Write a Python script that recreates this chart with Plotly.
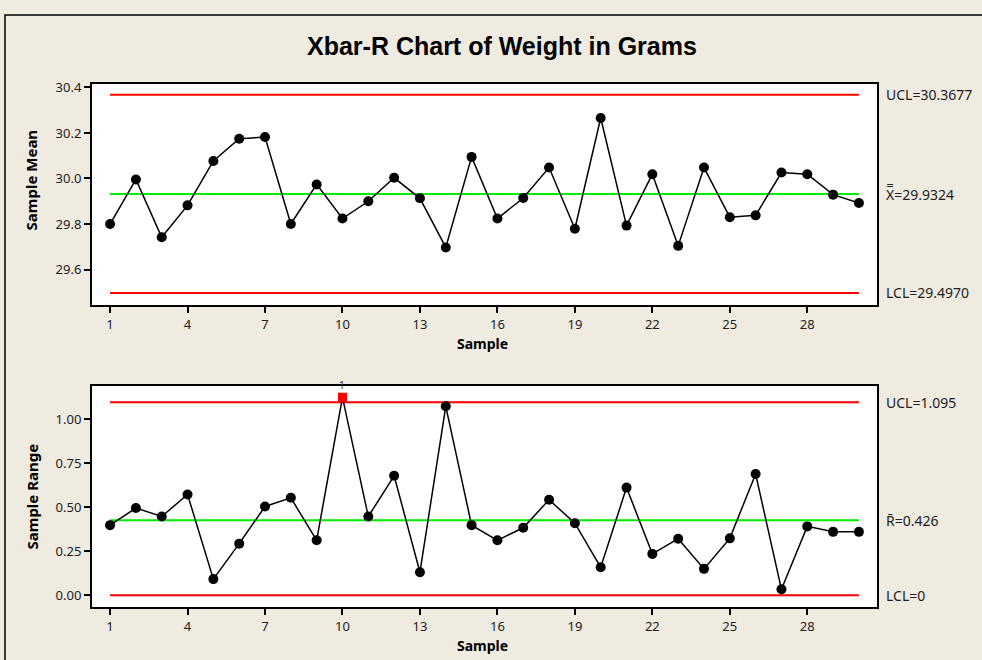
import plotly.graph_objects as go

samples = list(range(1, 31))
means = [29.800, 29.996, 29.742, 29.882, 30.077, 30.175, 30.182, 29.800, 29.974, 29.824,
         29.900, 30.003, 29.913, 29.697, 30.095, 29.824, 29.914, 30.048, 29.779, 30.266,
         29.793, 30.019, 29.704, 30.048, 29.830, 29.838, 30.026, 30.019, 29.929, 29.892]
ranges = [0.398, 0.495, 0.447, 0.572, 0.092, 0.293, 0.504, 0.553, 0.312, 1.123,
          0.447, 0.678, 0.131, 1.072, 0.398, 0.312, 0.383, 0.542, 0.409, 0.159,
          0.611, 0.235, 0.321, 0.150, 0.323, 0.688, 0.034, 0.391, 0.360, 0.360]
xbar_ucl, xbar_cl, xbar_lcl = 30.3677, 29.9324, 29.4970
r_ucl, r_cl, r_lcl = 1.095, 0.426, 0.0
x_ticks = [1, 4, 7, 10, 13, 16, 19, 22, 25, 28]
mean_ticks = [29.6, 29.8, 30.0, 30.2, 30.4]
range_ticks = [0.0, 0.25, 0.5, 0.75, 1.0]
flagged = [10]

W, H = 982, 660
BG = "#EFEBE1"
FONT = "Noto Sans"
TFONT = "Liberation Sans"

fig = go.Figure()

def add_limits(xa, ya, ucl, cl, lcl):
    for val, col in [(ucl, "#FF0000"), (lcl, "#FF0000"), (cl, "#00EE00")]:
        fig.add_trace(go.Scatter(x=[samples[0], samples[-1]], y=[val, val], mode="lines",
                                 line=dict(color=col, width=2), xaxis=xa, yaxis=ya,
                                 hoverinfo="skip", showlegend=False))

add_limits("x", "y", xbar_ucl, xbar_cl, xbar_lcl)
fig.add_trace(go.Scatter(x=samples, y=means, mode="lines+markers",
                         line=dict(color="black", width=1.5),
                         marker=dict(color="black", size=10, symbol="circle"),
                         xaxis="x", yaxis="y", showlegend=False))

add_limits("x2", "y2", r_ucl, r_cl, r_lcl)
ok_x = [s for s in samples if s not in flagged]
ok_y = [r for s, r in zip(samples, ranges) if s not in flagged]
fig.add_trace(go.Scatter(x=samples, y=ranges, mode="lines",
                         line=dict(color="black", width=1.5),
                         xaxis="x2", yaxis="y2", showlegend=False))
fig.add_trace(go.Scatter(x=ok_x, y=ok_y, mode="markers",
                         marker=dict(color="black", size=10, symbol="circle"),
                         xaxis="x2", yaxis="y2", showlegend=False))
fl_y = [r for s, r in zip(samples, ranges) if s in flagged]
fig.add_trace(go.Scatter(x=flagged, y=fl_y, mode="markers",
                         marker=dict(color="#FF0000", size=9, symbol="square"),
                         xaxis="x2", yaxis="y2", showlegend=False))

xdom = [92 / W, 877 / W]
top_dom = [1 - 302 / H, 1 - 79 / H]
bot_dom = [1 - 607 / H, 1 - 383 / H]

axcommon = dict(showline=True, linecolor="black", linewidth=2, mirror=True,
                ticks="outside", ticklen=6, tickwidth=1.5, tickcolor="black",
                showgrid=False, zeroline=False,
                tickfont=dict(family=FONT, size=13, color="#222"))

fig.update_layout(
    width=W, height=H,
    margin=dict(l=0, r=0, t=0, b=0),
    paper_bgcolor=BG, plot_bgcolor="white",
    xaxis=dict(domain=xdom, range=[0.3, 30.7], tickvals=x_ticks, anchor="y", **axcommon),
    yaxis=dict(domain=top_dom, range=[29.443, 30.414], tickvals=mean_ticks,
               tickformat=".1f", anchor="x", **axcommon),
    xaxis2=dict(domain=xdom, range=[0.3, 30.7], tickvals=x_ticks, anchor="y2", **axcommon),
    yaxis2=dict(domain=bot_dom, range=[-0.069, 1.19], tickvals=range_ticks,
                tickformat=".2f", anchor="x2", **axcommon),
    showlegend=False,
)

def pann(text, x, y, size, angle=0, family=FONT):
    return dict(text=text, x=x / W, y=1 - y / H, xref="paper", yref="paper",
                xanchor="center", yanchor="middle", showarrow=False, textangle=angle,
                font=dict(family=family, size=size, color="black"))

ann = [
    pann("<b>Xbar-R Chart of Weight in Grams</b>", 502, 40, 25, family=TFONT),
    pann("<b>Sample Mean</b>", 31, 176, 15, angle=-90),
    pann("<b>Sample Range</b>", 31, 495, 15, angle=-90),
    pann("<b>Sample</b>", 482, 341, 14),
    pann("<b>Sample</b>", 482, 645, 14),
]

lab_font = dict(family=FONT, size=14, color="#222")
for txt, val in [("UCL=%.4f" % xbar_ucl, xbar_ucl), ("X\u033F=%.4f" % xbar_cl, xbar_cl),
                 ("LCL=%.4f" % xbar_lcl, xbar_lcl)]:
    ann.append(dict(text=txt, x=884 / W, xref="paper", y=val, yref="y", xanchor="left",
                    yanchor="middle", showarrow=False, font=lab_font))
for txt, val in [("UCL=%.3f" % r_ucl, r_ucl), ("R\u0304=%.3f" % r_cl, r_cl),
                 ("LCL=%g" % r_lcl, r_lcl)]:
    ann.append(dict(text=txt, x=884 / W, xref="paper", y=val, yref="y2", xanchor="left",
                    yanchor="middle", showarrow=False, font=lab_font))
for s, r in zip(flagged, fl_y):
    ann.append(dict(text="1", x=s, y=r, xref="x2", yref="y2", yshift=12, showarrow=False,
                    font=dict(family=FONT, size=10, color="#333")))
fig.update_layout(annotations=ann)

fig.add_shape(type="rect", xref="paper", yref="paper", x0=5 / W, x1=1.2, y0=-0.2, y1=1 - 9 / H,
              line=dict(color="black", width=1.5), fillcolor="rgba(0,0,0,0)", layer="below")

fig.write_html("out.html", config={"displayModeBar": False},
               post_script="document.body.style.margin='0px';document.body.style.overflow='hidden';")
